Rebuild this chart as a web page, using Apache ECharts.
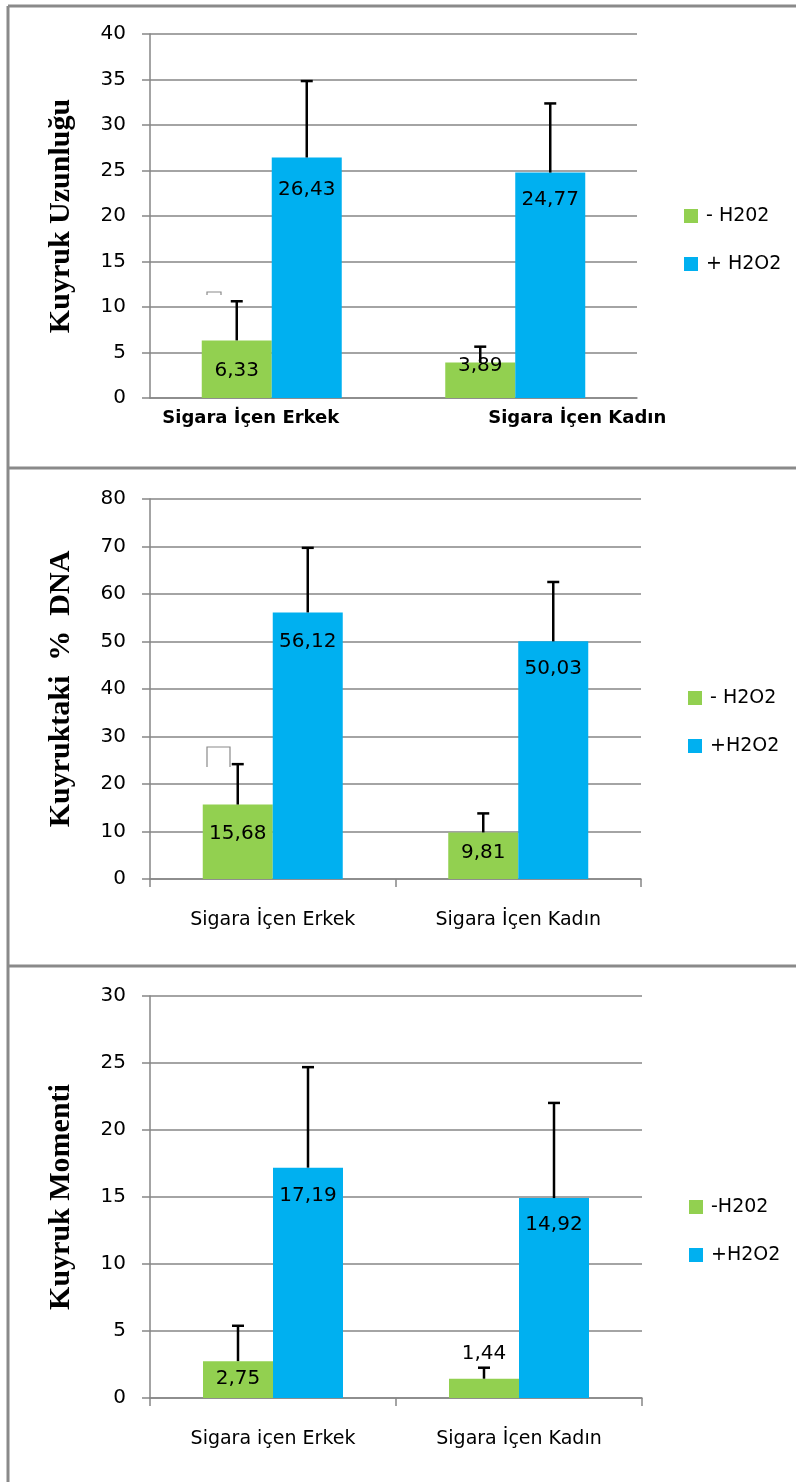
<!DOCTYPE html>
<html>
<head>
<meta charset="utf-8">
<title>Kuyruk</title>
<script src="https://cdn.jsdelivr.net/npm/echarts@6/dist/echarts.min.js"></script>
<style>
  html, body { margin: 0; padding: 0; background: #fff; }
  #chart { width: 796px; height: 1482px; }
</style>
</head>
<body>
<div id="chart"></div>
<script>
// panel 1: Kuyruk Uzunluğu
const categories1 = ['Sigara İçen Erkek', 'Sigara İçen Kadın']
const uzunlukMinus = [6.33, 3.89]
const uzunlukMinusErr = [4.3, 1.75]
const uzunlukPlus = [26.43, 24.77]
const uzunlukPlusErr = [8.4, 7.6]

// panel 2: Kuyruktaki % DNA
const categories2 = ['Sigara İçen Erkek', 'Sigara İçen Kadın']
const dnaMinus = [15.68, 9.81]
const dnaMinusErr = [8.5, 4.0]
const dnaPlus = [56.12, 50.03]
const dnaPlusErr = [13.6, 12.5]

// panel 3: Kuyruk Momenti
const categories3 = ['Sigara içen Erkek', 'Sigara İçen Kadın']
const momentMinus = [2.75, 1.44]
const momentMinusErr = [2.64, 0.82]
const momentPlus = [17.19, 14.92]
const momentPlusErr = [7.5, 7.1]

const GREEN = '#92d050'
const BLUE = '#00b0f0'
const GRAY = '#868686'
const FONT = 'DejaVu Sans'
const BAR_W = 70

const chart = echarts.init(document.getElementById('chart'))

function fmt(v) {
  return v.toFixed(2).replace('.', ',')
}

// bar data with per-item label placement (distance below bar top, or 'top')
function barData(values, gaps) {
  return values.map(function (v, i) {
    const g = gaps[i]
    if (g === 'top') {
      return { value: v, label: { position: 'top', distance: 15 } }
    }
    if (g < 0) {
      return { value: v, label: { position: 'insideTop', distance: 0, offset: [0, g] } }
    }
    return { value: v, label: { position: 'insideTop', distance: g } }
  })
}

function errorRender(offset) {
  return function (params, api) {
    const base = api.coord([api.value(0), api.value(1)])
    const top = api.coord([api.value(0), api.value(1) + api.value(2)])
    const x = base[0] + offset
    const style = { stroke: '#000', lineWidth: 2.5 }
    return {
      type: 'group',
      children: [
        { type: 'line', shape: { x1: x, y1: base[1], x2: x, y2: top[1] }, style: style },
        { type: 'line', shape: { x1: x - 6, y1: top[1], x2: x + 6, y2: top[1] }, style: style }
      ]
    }
  }
}

function errorData(values, errs) {
  return values.map(function (v, i) { return [i, v, errs[i]] })
}

const grids = [
  { left: 150, right: 159, top: 34, height: 364 },
  { left: 150, right: 155, top: 499, height: 380 },
  { left: 150, right: 154, top: 996, height: 402 }
]

const yAxes = [
  { max: 40, interval: 5, name: 'Kuyruk Uzunluğu' },
  { max: 80, interval: 10, name: 'Kuyruktaki  %  DNA' },
  { max: 30, interval: 5, name: 'Kuyruk Momenti' }
].map(function (a, i) {
  return {
    type: 'value',
    gridIndex: i,
    min: 0,
    max: a.max,
    interval: a.interval,
    name: a.name,
    nameLocation: 'middle',
    nameRotate: 90,
    nameGap: 74,
    nameTextStyle: { fontFamily: 'Liberation Serif', fontWeight: 'bold', fontSize: 30, color: '#000' },
    axisLine: { show: true, lineStyle: { color: GRAY, width: 1.5 } },
    axisTick: { show: true, length: 8, lineStyle: { color: GRAY, width: 1.5 } },
    axisLabel: { margin: 24, fontFamily: FONT, fontSize: 20, color: '#000' },
    splitLine: { lineStyle: { color: GRAY, width: 1.5 } }
  }
})

const xAxes = [
  {
    type: 'category',
    gridIndex: 0,
    data: categories1,
    axisLine: { lineStyle: { color: GRAY, width: 1.5 } },
    axisTick: { show: false },
    axisLabel: {
      margin: 11,
      interval: 0,
      formatter: function (v, i) { return '{c' + i + '|' + v + '}' },
      rich: {
        c0: { fontFamily: FONT, fontWeight: 'bold', fontSize: 18, color: '#000', padding: [0, 42, 0, 0] },
        c1: { fontFamily: FONT, fontWeight: 'bold', fontSize: 18, color: '#000', padding: [0, 0, 0, 124] }
      }
    }
  },
  {
    type: 'category',
    gridIndex: 1,
    data: categories2,
    axisLine: { lineStyle: { color: GRAY, width: 1.5 } },
    axisTick: { show: true, length: 8, lineStyle: { color: GRAY, width: 1.5 } },
    axisLabel: { margin: 32, interval: 0, fontFamily: FONT, fontSize: 19, color: '#000' }
  },
  {
    type: 'category',
    gridIndex: 2,
    data: categories3,
    axisLine: { lineStyle: { color: GRAY, width: 1.5 } },
    axisTick: { show: true, length: 8, lineStyle: { color: GRAY, width: 1.5 } },
    axisLabel: { margin: 32, interval: 0, fontFamily: FONT, fontSize: 19, color: '#000' }
  }
]

const labelBase = {
  show: true,
  fontFamily: FONT,
  fontSize: 20,
  color: '#000',
  formatter: function (p) { return fmt(p.value) }
}

function panelSeries(idx, names, minus, minusErr, plus, plusErr, minusGaps, plusGaps) {
  return [
    {
      name: names[0], type: 'bar', xAxisIndex: idx, yAxisIndex: idx,
      barWidth: BAR_W, barGap: '0%',
      itemStyle: { color: GREEN },
      label: labelBase,
      data: barData(minus, minusGaps)
    },
    {
      name: names[1], type: 'bar', xAxisIndex: idx, yAxisIndex: idx,
      barWidth: BAR_W, barGap: '0%',
      itemStyle: { color: BLUE },
      label: labelBase,
      data: barData(plus, plusGaps)
    },
    {
      type: 'custom', xAxisIndex: idx, yAxisIndex: idx, z: 5,
      renderItem: errorRender(-BAR_W / 2),
      encode: { x: 0, y: 1 },
      data: errorData(minus, minusErr)
    },
    {
      type: 'custom', xAxisIndex: idx, yAxisIndex: idx, z: 5,
      renderItem: errorRender(BAR_W / 2),
      encode: { x: 0, y: 1 },
      data: errorData(plus, plusErr)
    }
  ]
}

const names1 = ['- H202', '+ H2O2']
const names2 = ['- H2O2', '+H2O2']
const names3 = ['-H202', '+H2O2']

const series = []
  .concat(panelSeries(0, names1, uzunlukMinus, uzunlukMinusErr, uzunlukPlus, uzunlukPlusErr, [20, -7], [22, 17]))
  .concat(panelSeries(1, names2, dnaMinus, dnaMinusErr, dnaPlus, dnaPlusErr, [19, 10], [19, 17]))
  .concat(panelSeries(2, names3, momentMinus, momentMinusErr, momentPlus, momentPlusErr, [8, 'top'], [18, 17]))

function legend(names, left, top) {
  return {
    data: names,
    orient: 'vertical',
    left: left,
    top: top,
    icon: 'rect',
    itemWidth: 14,
    itemHeight: 14,
    itemGap: 26,
    selectedMode: false,
    textStyle: { fontFamily: FONT, fontSize: 19, lineHeight: 22, color: '#000', padding: [0, 0, 0, 3] }
  }
}

const borderStyle = { stroke: '#8a8a8a', lineWidth: 3 }

const option = {
  animation: false,
  backgroundColor: '#fff',
  grid: grids,
  xAxis: xAxes,
  yAxis: yAxes,
  legend: [
    legend(names1, 679, 200),
    legend(names2, 683, 682),
    legend(names3, 684, 1191)
  ],
  graphic: [
    { type: 'line', shape: { x1: 8, y1: 6, x2: 796, y2: 6 }, style: borderStyle },
    { type: 'line', shape: { x1: 8, y1: 6, x2: 8, y2: 1482 }, style: borderStyle },
    { type: 'line', shape: { x1: 8, y1: 468, x2: 796, y2: 468 }, style: borderStyle },
    { type: 'line', shape: { x1: 8, y1: 966, x2: 796, y2: 966 }, style: borderStyle },
    // stray bracket marks left over in the original figure
    { type: 'polyline', shape: { points: [[207, 295], [207, 292], [221, 292], [221, 295]] }, style: { stroke: '#8a8a8a', lineWidth: 1.2, fill: null } },
    { type: 'polyline', shape: { points: [[207, 767], [207, 747], [230, 747], [230, 767]] }, style: { stroke: '#8a8a8a', lineWidth: 1.2, fill: null } }
  ],
  series: series
}

chart.setOption(option)
</script>
</body>
</html>
